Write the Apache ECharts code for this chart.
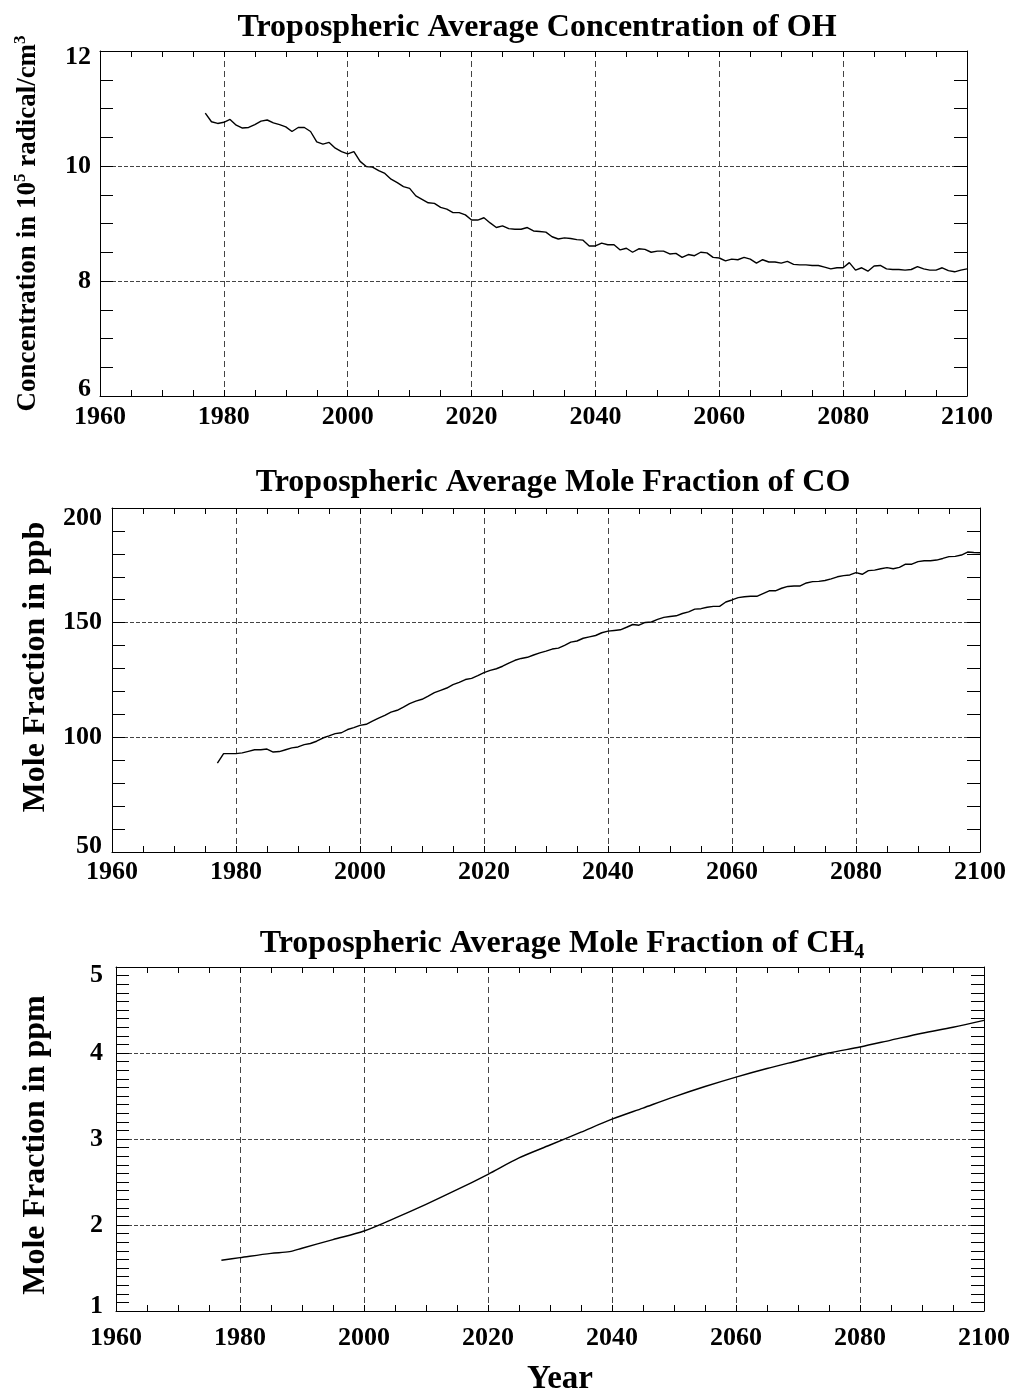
<!DOCTYPE html>
<html>
<head>
<meta charset="utf-8">
<script src="https://cdn.jsdelivr.net/npm/echarts@6/dist/echarts.min.js"></script>
<style>
html,body{margin:0;padding:0;background:#fff;}
#chart{width:1016px;height:1393px;}
</style>
</head>
<body>
<div id="chart"></div>
<script>
// ---------------- DATA ----------------
const X_TICKS = [1960, 1980, 2000, 2020, 2040, 2060, 2080, 2100];

// OH: tropospheric average concentration (10^5 radical/cm3), yearly from 1977
const OH_START = 1977;
const OH = [
  10.92, 10.77, 10.74, 10.76, 10.81, 10.71, 10.66, 10.67, 10.72, 10.78,
  10.80, 10.75, 10.72, 10.68, 10.60, 10.67, 10.67, 10.60, 10.42, 10.38,
  10.41, 10.31, 10.25, 10.21, 10.25, 10.08, 9.99, 9.98, 9.92, 9.87,
  9.77, 9.71, 9.64, 9.61, 9.48, 9.42, 9.36, 9.35, 9.28, 9.25,
  9.19, 9.19, 9.15, 9.06, 9.06, 9.10, 9.01, 8.93, 8.96, 8.91,
  8.90, 8.90, 8.93, 8.87, 8.86, 8.85, 8.77, 8.73, 8.75, 8.74,
  8.72, 8.71, 8.61, 8.61, 8.66, 8.63, 8.63, 8.54, 8.57, 8.50,
  8.56, 8.55, 8.50, 8.52, 8.52, 8.47, 8.48, 8.41, 8.46, 8.44,
  8.50, 8.49, 8.41, 8.40, 8.35, 8.38, 8.37, 8.41, 8.38, 8.31,
  8.37, 8.33, 8.33, 8.31, 8.34, 8.29, 8.28, 8.28, 8.27, 8.27,
  8.24, 8.21, 8.23, 8.23, 8.32, 8.19, 8.23, 8.17, 8.26, 8.27,
  8.21, 8.20, 8.20, 8.19, 8.20, 8.25, 8.21, 8.19, 8.19, 8.23,
  8.18, 8.16, 8.19, 8.21
];

// CO: tropospheric average mole fraction (ppb), yearly from 1977
const CO_START = 1977;
const CO = [
  88.8, 92.9, 92.9, 92.9, 93.2, 93.9, 94.6, 94.6, 94.9, 93.6,
  93.8, 94.6, 95.4, 95.8, 96.8, 97.3, 98.3, 99.7, 100.6, 101.6,
  102.0, 103.4, 104.2, 105.2, 105.7, 107.1, 108.4, 109.6, 111.0, 111.8,
  113.2, 114.7, 115.8, 116.6, 118.0, 119.5, 120.5, 121.5, 123.0, 124.0,
  125.2, 125.7, 126.9, 128.2, 129.2, 129.9, 131.0, 132.4, 133.6, 134.4,
  134.9, 135.9, 136.8, 137.6, 138.5, 138.9, 140.1, 141.5, 142.0, 143.2,
  143.8, 144.4, 145.6, 146.3, 146.6, 146.9, 148.0, 149.2, 148.9, 150.1,
  150.3, 151.4, 152.3, 152.7, 153.0, 154.0, 154.7, 155.9, 156.1, 156.7,
  157.1, 157.1, 159.0, 159.9, 160.9, 161.3, 161.5, 161.5, 162.7, 163.9,
  163.9, 165.0, 165.8, 166.0, 166.0, 167.3, 167.9, 168.0, 168.4, 169.1,
  170.0, 170.5, 170.8, 171.8, 171.1, 172.7, 172.9, 173.5, 174.0, 173.5,
  174.1, 175.5, 175.5, 176.6, 177.0, 177.0, 177.3, 178.0, 178.8, 178.9,
  179.5, 180.8, 180.6, 180.5
];

// CH4: tropospheric average mole fraction (ppm)
const CH4_YEARS = [1977, 1980, 1985, 1988, 1990, 1995, 2000, 2005, 2010, 2015,
  2020, 2025, 2030, 2035, 2040, 2045, 2050, 2055, 2060, 2065, 2070, 2075,
  2080, 2085, 2090, 2095, 2100];
const CH4 = [1.59, 1.62, 1.67, 1.69, 1.73, 1.83, 1.93, 2.08, 2.24, 2.41,
  2.59, 2.78, 2.93, 3.08, 3.23, 3.36, 3.49, 3.61, 3.72, 3.82, 3.91, 4.00,
  4.07, 4.15, 4.23, 4.30, 4.38];

// ---------------- CHART ----------------
const FONT = 'Liberation Serif';
const GRIDS = [
  {left: 100, top: 51, width: 867, height: 345},
  {left: 112, top: 508, width: 868, height: 344},
  {left: 116, top: 967, width: 868, height: 344}
];
const X_MARGIN = [8, 7, 14];
const Y_SPECS = [
  {min: 6, max: 12, interval: 2, minor: 4, gap: 56, nameSize: 27, pad: [0, 0, 0, 0],
   padTop: 12, padBot: 14, margin: 9,
   name: 'Concentration in 10{sup|5} radical/cm{sup|3}'},
  {min: 50, max: 200, interval: 50, minor: 5, gap: 60, nameSize: 32, pad: [0, 0, 0, 26],
   padTop: 20, padBot: 11, margin: 10,
   name: 'Mole Fraction in ppb'},
  {min: 1, max: 5, interval: 1, minor: 10, gap: 64, nameSize: 32, pad: [0, 12, 0, 0],
   padTop: 16, padBot: 9, margin: 13,
   name: 'Mole Fraction in ppm'}
];

const withYears = (start, vals) => vals.map((v, i) => [start + i, v]);
const pairs = (xs, ys) => xs.map((x, i) => [x, ys[i]]);

const LBL = 26;
const labelStyle = {fontFamily: FONT, fontWeight: 'bold', fontSize: LBL, color: '#000'};
const axisLine = {show: true, lineStyle: {color: '#000', width: 1}};

const xAxes = [], yAxes = [];
GRIDS.forEach((g, i) => {
  const isLast = i === 2;
  xAxes.push({
    type: 'value', gridIndex: i, position: 'bottom', min: 1960, max: 2100, interval: 20,
    axisLine,
    axisTick: {show: true, inside: true, length: 6, lineStyle: {color: '#000'}},
    minorTick: {show: true, splitNumber: 4, length: 6, lineStyle: {color: '#000'}},
    axisLabel: Object.assign({margin: X_MARGIN[i], formatter: v => String(v)}, labelStyle),
    splitLine: {show: true, lineStyle: {color: '#444', width: 1, type: [6, 4]}},
    name: isLast ? 'Year' : '',
    nameLocation: 'middle', nameGap: 52,
    nameTextStyle: {fontFamily: FONT, fontWeight: 'bold', fontSize: 33, color: '#000', padding: [0, 0, 0, 20]}
  });
  xAxes.push({
    type: 'value', gridIndex: i, position: 'top', min: 1960, max: 2100, interval: 20,
    axisLine,
    axisTick: {show: true, inside: true, length: 6, lineStyle: {color: '#000'}},
    minorTick: {show: true, splitNumber: 4, length: 6, lineStyle: {color: '#000'}},
    axisLabel: {show: false}, splitLine: {show: false}
  });
  const s = Y_SPECS[i];
  yAxes.push({
    type: 'value', gridIndex: i, position: 'left', min: s.min, max: s.max, interval: s.interval,
    axisLine,
    axisTick: {show: true, inside: true, length: 13, lineStyle: {color: '#000'}},
    minorTick: {show: true, splitNumber: s.minor, length: 13, lineStyle: {color: '#000'}},
    axisLabel: Object.assign({
      margin: s.margin,
      formatter: v => v === s.max ? '{top|' + v + '}' : (v === s.min ? '{bot|' + v + '}' : String(v)),
      rich: {
        top: {fontFamily: FONT, fontWeight: 'bold', fontSize: LBL, color: '#000', padding: [s.padTop, 0, 0, 0]},
        bot: {fontFamily: FONT, fontWeight: 'bold', fontSize: LBL, color: '#000', padding: [0, 0, s.padBot, 0]}
      }
    }, labelStyle),
    splitLine: {show: true, lineStyle: {color: '#444', width: 1, type: [4, 2]}},
    name: s.name, nameLocation: 'middle', nameGap: s.gap, nameRotate: 90,
    nameTextStyle: {
      fontFamily: FONT, fontWeight: 'bold', fontSize: s.nameSize, color: '#000',
      lineHeight: 32, padding: s.pad,
      rich: {
        sup: {fontFamily: FONT, fontWeight: 'bold', fontSize: 17, color: '#000',
              verticalAlign: 'top', lineHeight: 18}
      }
    }
  });
  yAxes.push({
    type: 'value', gridIndex: i, position: 'right', min: s.min, max: s.max, interval: s.interval,
    axisLine,
    axisTick: {show: true, inside: true, length: 13, lineStyle: {color: '#000'}},
    minorTick: {show: true, splitNumber: s.minor, length: 13, lineStyle: {color: '#000'}},
    axisLabel: {show: false}, splitLine: {show: false}
  });
});

const titleStyle = {
  fontFamily: FONT, fontWeight: 'bold', fontSize: 32, color: '#000', lineHeight: 38,
  rich: {
    sub: {fontFamily: FONT, fontWeight: 'bold', fontSize: 20, color: '#000',
          verticalAlign: 'bottom', lineHeight: 27}
  }
};

const option = {
  backgroundColor: '#fff',
  animation: false,
  title: [
    {text: 'Tropospheric Average Concentration of OH', left: 532, top: 4, textAlign: 'center', textStyle: titleStyle},
    {text: 'Tropospheric Average Mole Fraction of CO', left: 548, top: 459, textAlign: 'center', textStyle: titleStyle},
    {text: 'Tropospheric Average Mole Fraction of CH{sub|4}', left: 557, top: 920, textAlign: 'center', textStyle: titleStyle}
  ],
  grid: GRIDS.map(g => Object.assign({containLabel: false, outerBoundsMode: 'none'}, g)),
  xAxis: xAxes,
  yAxis: yAxes,
  series: [
    {type: 'line', xAxisIndex: 0, yAxisIndex: 0, data: withYears(OH_START, OH),
     showSymbol: false, symbol: 'none', lineStyle: {color: '#000', width: 1.4}},
    {type: 'line', xAxisIndex: 2, yAxisIndex: 2, data: withYears(CO_START, CO),
     showSymbol: false, symbol: 'none', lineStyle: {color: '#000', width: 1.4}},
    {type: 'line', xAxisIndex: 4, yAxisIndex: 4, data: pairs(CH4_YEARS, CH4), smooth: 0.3,
     showSymbol: false, symbol: 'none', lineStyle: {color: '#000', width: 1.4}}
  ]
};

const chart = echarts.init(document.getElementById('chart'), null, {renderer: 'canvas'});
chart.setOption(option);
</script>
</body>
</html>
